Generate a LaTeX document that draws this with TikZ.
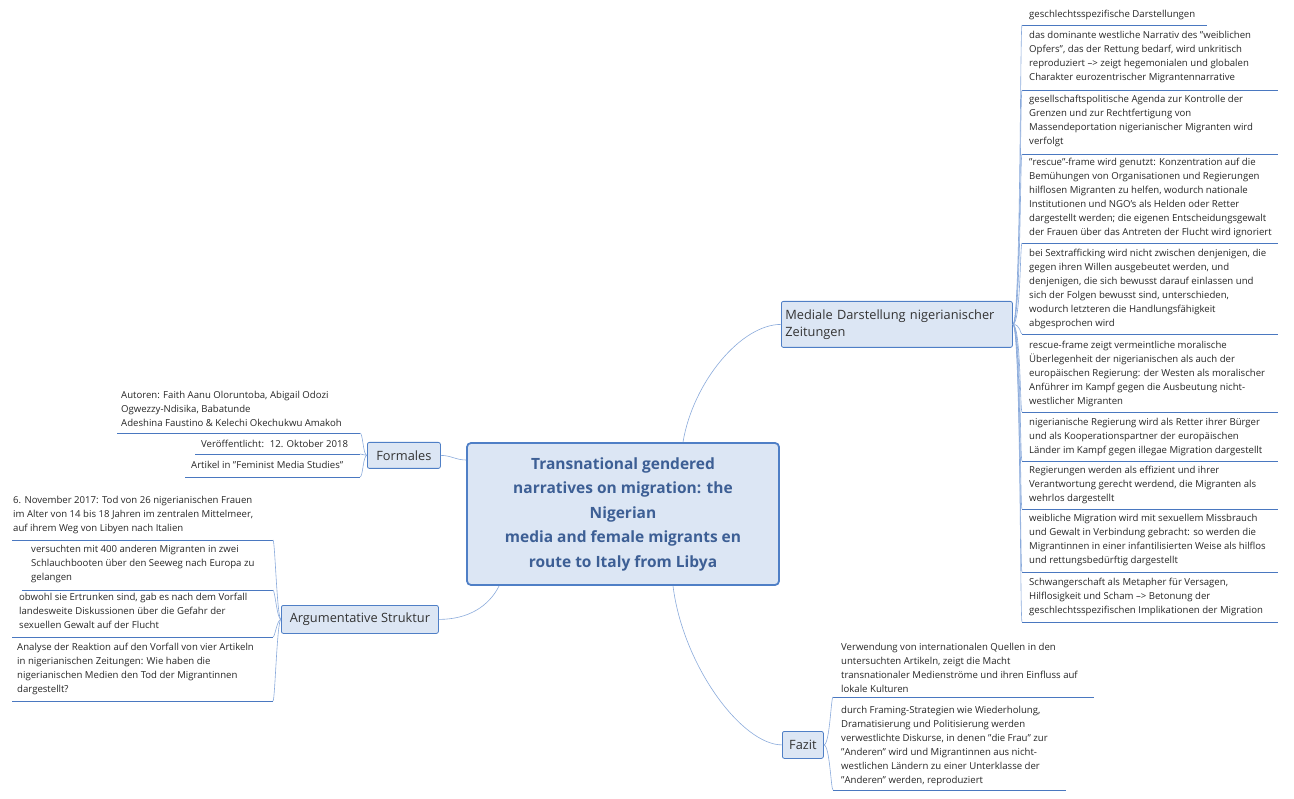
\documentclass[tikz,border=0pt]{standalone}
\usepackage{fontspec}
\setmainfont{Open Sans}
\definecolor{ln}{HTML}{8AAADB}
\definecolor{ul}{HTML}{4A78C0}
\definecolor{bx}{HTML}{DCE6F4}
\definecolor{bd}{HTML}{4F7FC6}
\definecolor{tt}{HTML}{3D5F95}
\begin{document}
\begin{tikzpicture}[x=1pt,y=-1pt,
  leaf/.style={inner sep=0pt, align=left, font=\fontsize{9.6}{14}\selectfont, text=black!85},
  conn/.style={ln, line width=0.6pt},
  uline/.style={ul, line width=0.8pt},
  box/.style={draw=bd, fill=bx, rounded corners=2pt, line width=0.8pt, inner sep=3pt, text=black!80, font=\fontsize{12.8}{17}\selectfont, align=left}]
\useasboundingbox (0,0) rectangle (1294,799);
% central
\node[draw=bd, fill=bx, rounded corners=4pt, line width=1.8pt, minimum width=312pt, minimum height=142pt, text=tt, font=\fontsize{15.5}{24.5}\selectfont\bfseries, align=center] (c) at (623,514)
 {Transnational gendered\\narratives on migration: the\\Nigerian\\media and female migrants en\\route to Italy from Libya};
% branches
\node[box, minimum width=231pt, minimum height=46pt, text width=223pt, anchor=north west] (m) at (781,301) {Mediale Darstellung nigerianischer\\Zeitungen};
\node[box, minimum width=73pt, minimum height=26pt, anchor=north west] (f) at (367,442) {Formales};
\node[box, minimum width=157pt, minimum height=28pt, anchor=north west] (a) at (281,605) {Argumentative Struktur};
\node[box, minimum width=41pt, minimum height=27pt, anchor=north west] (z) at (782,731) {Fazit};
\draw[conn] (c.north) ++(60,0) coordinate (c1) .. controls +(10,-60) and +(-40,0) .. (m.west);
\draw[conn] (c.west) ++(0,-54) coordinate (c2) .. controls +(-10,0) and +(10,0) .. (f.east);
\draw[conn] (c.south west) ++(33,0) coordinate (c3) .. controls +(-10,20) and +(30,0) .. (a.east);
\draw[conn] (c.south) ++(50,0) coordinate (c4) .. controls +(10,80) and +(-40,0) .. (z.west);
% right leaves
\foreach \n/\t/\b/\e/\txt in {
 r1/10/25/1207/{geschlechtsspezifische Darstellungen},
 r2/31/90/1278/{das dominante westliche Narrativ des "weiblichen\\Opfers", das der Rettung bedarf, wird unkritisch\\reproduziert --> zeigt hegemonialen und globalen\\Charakter eurozentrischer Migrantennarrative},
 r3/95/154/1278/{gesellschaftspolitische Agenda zur Kontrolle der\\Grenzen und zur Rechtfertigung von\\Massendeportation nigerianischer Migranten wird\\verfolgt},
 r4/158/243/1278/{"rescue"-frame wird genutzt: Konzentration auf die\\Bemühungen von Organisationen und Regierungen\\hilflosen Migranten zu helfen, wodurch nationale\\Institutionen und NGO's als Helden oder Retter\\dargestellt werden; die eigenen Entscheidungsgewalt\\der Frauen über das Antreten der Flucht wird ignoriert},
 r5/249/334/1278/{bei Sextrafficking wird nicht zwischen denjenigen, die\\gegen ihren Willen ausgebeutet werden, und\\denjenigen, die sich bewusst darauf einlassen und\\sich der Folgen bewusst sind, unterschieden,\\wodurch letzteren die Handlungsfähigkeit\\abgesprochen wird},
 r6/341/412/1278/{rescue-frame zeigt vermeintliche moralische\\Überlegenheit der nigerianischen als auch der\\europäischen Regierung: der Westen als moralischer\\Anführer im Kampf gegen die Ausbeutung nicht-\\westlicher Migranten},
 r7/418/461/1278/{nigerianische Regierung wird als Retter ihrer Bürger\\und als Kooperationspartner der europäischen\\Länder im Kampf gegen illegae Migration dargestellt},
 r8/466/509/1278/{Regierungen werden als effizient und ihrer\\Verantwortung gerecht werdend, die Migranten als\\wehrlos dargestellt},
 r9/514/572/1278/{weibliche Migration wird mit sexuellem Missbrauch\\und Gewalt in Verbindung gebracht: so werden die\\Migrantinnen in einer infantilisierten Weise als hilflos\\und rettungsbedürftig dargestellt},
 r10/578/622/1278/{Schwangerschaft als Metapher für Versagen,\\Hilflosigkeit und Scham --> Betonung der\\geschlechtsspezifischen Implikationen der Migration}}{
  \node[leaf, anchor=north west] (\n) at (1029,\t) {\txt};
  \draw[uline] (1022,\b) coordinate (\n s) -- (\e,\b);
  \draw[conn] (m.east) .. controls +(8,0) and +(-2,0) .. (\n s);
}
% Formales leaves
\foreach \n/\t/\b/\s/\x/\txt in {
 f1/391/433/117/121/{Autoren: Faith Aanu Oloruntoba, Abigail Odozi\\Ogwezzy-Ndisika, Babatunde\\Adeshina Faustino \& Kelechi Okechukwu Amakoh},
 f2/440/454/195/201/{Veröffentlicht:~ 12. Oktober 2018},
 f3/461/477/185/191/{Artikel in "Feminist Media Studies"}}{
  \node[leaf, anchor=north west] (\n) at (\x,\t) {\txt};
  \draw[uline] (\s,\b) -- (360,\b) coordinate (\n s);
  \draw[conn] (f.west) .. controls +(-4,0) and +(3,0) .. (\n s);
}
% Argumentative leaves
\foreach \n/\t/\b/\s/\x/\txt in {
 a1/496/540/12/13/{6. November 2017: Tod von 26 nigerianischen Frauen\\im Alter von 14 bis 18 Jahren im zentralen Mittelmeer,\\auf ihrem Weg von Libyen nach Italien},
 a2/545/590/22/31/{versuchten mit 400 anderen Migranten in zwei\\Schlauchbooten über den Seeweg nach Europa zu\\gelangen},
 a3/593/637/12/19/{obwohl sie Ertrunken sind, gab es nach dem Vorfall\\landesweite Diskussionen über die Gefahr der\\sexuellen Gewalt auf der Flucht},
 a4/643/701/12/17/{Analyse der Reaktion auf den Vorfall von vier Artikeln\\in nigerianischen Zeitungen: Wie haben die\\nigerianischen Medien den Tod der Migrantinnen\\dargestellt?}}{
  \node[leaf, anchor=north west] (\n) at (\x,\t) {\txt};
  \draw[uline] (\s,\b) -- (273,\b) coordinate (\n s);
  \draw[conn] (a.west) .. controls +(-4,0) and +(2,0) .. (\n s);
}
% Fazit leaves
\foreach \n/\t/\b/\e/\x/\txt in {
 z1/643/697/1094/841/{Verwendung von internationalen Quellen in den\\untersuchten Artikeln, zeigt die Macht\\transnationaler Medienströme und ihren Einfluss auf\\lokale Kulturen},
 z2/706/790/1066/841/{durch Framing-Strategien wie Wiederholung,\\Dramatisierung und Politisierung werden\\verwestlichte Diskurse, in denen "die Frau" zur\\"Anderen" wird und Migrantinnen aus nicht-\\westlichen Ländern zu einer Unterklasse der\\"Anderen" werden, reproduziert}}{
  \node[leaf, anchor=north west] (\n) at (\x,\t) {\txt};
  \draw[uline] (833,\b) coordinate (\n s) -- (\e,\b);
  \draw[conn] (z.east) .. controls +(6,0) and +(-2,0) .. (\n s);
}
\end{tikzpicture}
\end{document}
